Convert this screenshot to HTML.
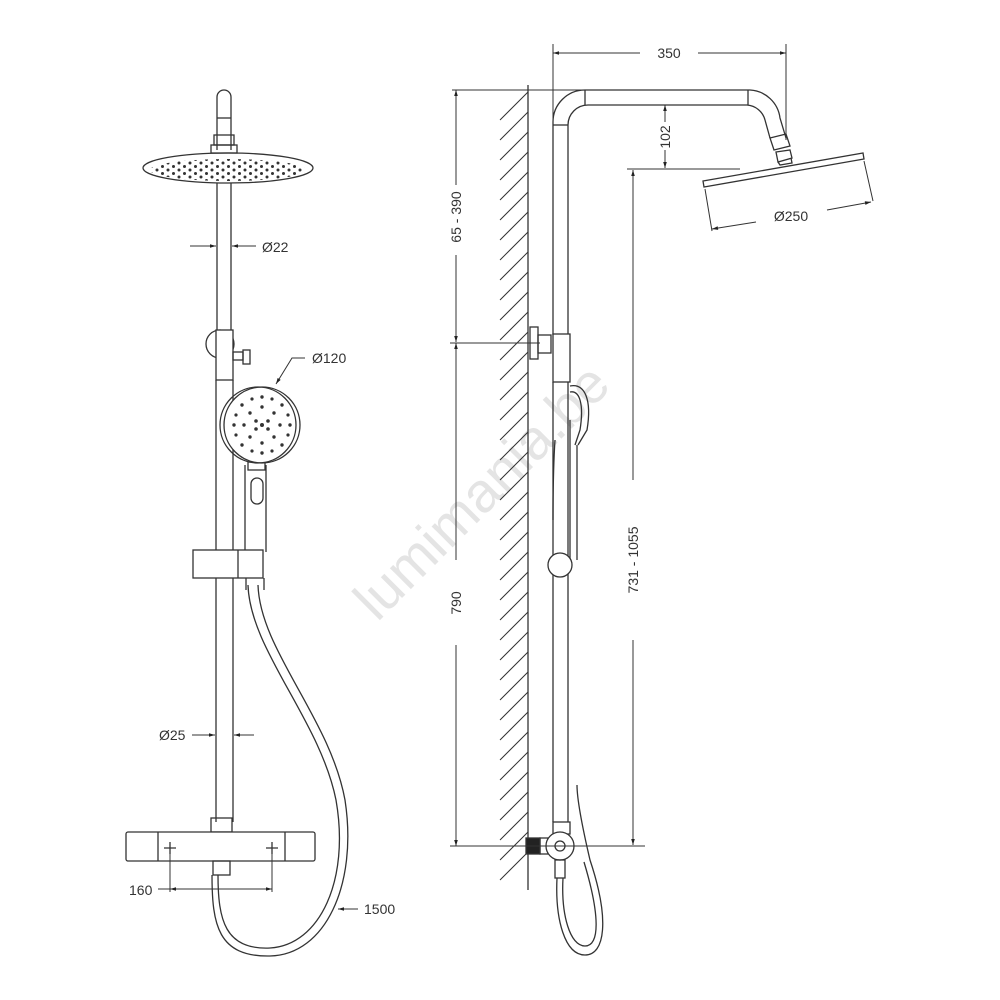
<!DOCTYPE html>
<html><head><meta charset="utf-8"><style>
html,body{margin:0;padding:0;background:#fff}
svg{display:block}
text{font-family:"Liberation Sans",sans-serif;fill:#333;font-size:14px}
</style></head><body>
<svg width="1000" height="1000" viewBox="0 0 1000 1000" xmlns="http://www.w3.org/2000/svg">
<defs>
<marker id="a" viewBox="0 0 10 10" refX="10" refY="5" markerWidth="8" markerHeight="6" orient="auto-start-reverse"><path d="M0,2 L10,5 L0,8 z" fill="#222"/></marker>
<pattern id="dots" width="11" height="7" patternUnits="userSpaceOnUse"><circle cx="3" cy="2" r="1.5" fill="#333"/><circle cx="8.5" cy="5.5" r="1.5" fill="#333"/></pattern>
<clipPath id="hc"><ellipse cx="228" cy="170" rx="78" ry="11"/></clipPath>
</defs>
<text x="0" y="0" transform="translate(495,505) rotate(-45)" text-anchor="middle" style="font-size:56px;fill:#e4e4e4">lumimania.be</text>

<g fill="none" stroke="#333" stroke-width="1.3">
<path d="M217,150 V97 A7,7 0 0 1 231,97 V150"/>
<line x1="217" y1="118" x2="231" y2="118"/>
<rect x="214" y="135" width="20" height="10"/>
<rect x="211" y="145" width="26" height="8"/>
<ellipse cx="228" cy="168" rx="85" ry="15"/>
<rect x="140" y="158" width="176" height="24" fill="url(#dots)" stroke="none" clip-path="url(#hc)"/>
<line x1="217" y1="183" x2="217" y2="330"/><line x1="231" y1="183" x2="231" y2="330"/>
<circle cx="220" cy="344" r="14"/>
<rect x="216" y="330" width="17" height="50" fill="#fff"/>
<rect x="233" y="352" width="10" height="8"/><rect x="243" y="350" width="7" height="14"/>
<line x1="216" y1="380" x2="216" y2="822"/><line x1="233" y1="380" x2="233" y2="822"/>
<path d="M245,465 V552 M266,465 V552"/>
<rect x="251" y="478" width="12" height="26" rx="6"/>
<rect x="248" y="462" width="17" height="8"/>
<circle cx="262" cy="425" r="38" fill="#fff"/>
<circle cx="258" cy="425" r="38"/>
<g fill="#333" stroke="none">
<circle cx="262" cy="425" r="2"/><circle cx="256" cy="421" r="1.8"/><circle cx="268" cy="421" r="1.8"/><circle cx="256" cy="429" r="1.8"/><circle cx="268" cy="429" r="1.8"/>
<circle cx="262" cy="397" r="1.7"/><circle cx="262" cy="453" r="1.7"/><circle cx="234" cy="425" r="1.7"/><circle cx="290" cy="425" r="1.7"/>
<circle cx="242" cy="405" r="1.7"/><circle cx="282" cy="405" r="1.7"/><circle cx="242" cy="445" r="1.7"/><circle cx="282" cy="445" r="1.7"/>
<circle cx="262" cy="407" r="1.7"/><circle cx="262" cy="443" r="1.7"/><circle cx="244" cy="425" r="1.7"/><circle cx="280" cy="425" r="1.7"/>
<circle cx="250" cy="413" r="1.7"/><circle cx="274" cy="413" r="1.7"/><circle cx="250" cy="437" r="1.7"/><circle cx="274" cy="437" r="1.7"/>
<circle cx="252" cy="399" r="1.6"/><circle cx="272" cy="399" r="1.6"/><circle cx="252" cy="451" r="1.6"/><circle cx="272" cy="451" r="1.6"/>
<circle cx="236" cy="415" r="1.6"/><circle cx="288" cy="415" r="1.6"/><circle cx="236" cy="435" r="1.6"/><circle cx="288" cy="435" r="1.6"/>
</g>
<rect x="193" y="550" width="70" height="28" fill="#fff"/>
<line x1="238" y1="550" x2="238" y2="578"/>
<path d="M246,578 V590 M264,578 V590"/>
<path d="M248,585 C250,650 320,720 336,800 C350,880 320,945 270,948 C225,950 218,920 218,875"/>
<path d="M258,585 C260,650 330,718 345,800 C358,885 325,955 270,956 C218,957 212,925 212,875"/>
<rect x="211" y="818" width="21" height="14"/>
<rect x="126" y="832" width="189" height="29" rx="2" fill="#fff"/>
<line x1="158" y1="832" x2="158" y2="861"/><line x1="285" y1="832" x2="285" y2="861"/>
<rect x="213" y="861" width="17" height="14"/>
<path d="M164,848 h12 M170,842 v12 M266,848 h12 M272,842 v12"/>

<line x1="528" y1="85" x2="528" y2="890"/>
<g stroke-width="1">
<path d="M500,120 L528,92 M500,140 L528,112 M500,160 L528,132 M500,180 L528,152 M500,200 L528,172 M500,220 L528,192 M500,240 L528,212 M500,260 L528,232 M500,280 L528,252 M500,300 L528,272 M500,320 L528,292 M500,340 L528,312 M500,360 L528,332 M500,380 L528,352 M500,400 L528,372 M500,420 L528,392 M500,440 L528,412 M500,460 L528,432 M500,480 L528,452 M500,500 L528,472 M500,520 L528,492 M500,540 L528,512 M500,560 L528,532 M500,580 L528,552 M500,600 L528,572 M500,620 L528,592 M500,640 L528,612 M500,660 L528,632 M500,680 L528,652 M500,700 L528,672 M500,720 L528,692 M500,740 L528,712 M500,760 L528,732 M500,780 L528,752 M500,800 L528,772 M500,820 L528,792 M500,840 L528,812 M500,860 L528,832 M500,880 L528,852"/>
</g>
<path d="M553,335 V122 A32,32 0 0 1 585,90 H750 A32,32 0 0 1 780,118 L786,138"/>
<path d="M568,335 V125 A20,20 0 0 1 588,105 H747 A20,20 0 0 1 765,120 L770,138"/>
<line x1="553" y1="125" x2="568" y2="125"/>
<line x1="585" y1="90" x2="585" y2="105"/><line x1="748" y1="90" x2="748" y2="105"/>
<path d="M770,138 L786,134 L790,146 L774,150 Z"/>
<path d="M776,152 L790,150 L792,158 L778,162 Z"/>
<path d="M778,162 L780,165 L792,163 L791,158"/>
<path d="M703,181 L863,153 L864,159 L704,187 Z"/>
<path d="M705,189 L712,231 M864,161 L873,201" stroke-width="1"/>
<rect x="530" y="327" width="8" height="32"/>
<rect x="538" y="335" width="13" height="18"/>
<rect x="553" y="334" width="17" height="48" fill="#fff"/>
<path d="M570,386 C585,383 592,400 587,430 L578,445"/>
<path d="M570,392 C580,390 584,405 580,430 L575,445"/>
<path d="M570,420 V560 M577,445 V560"/>
<path d="M555,440 C553,470 553,500 553,520"/>
<line x1="553" y1="382" x2="553" y2="822"/><line x1="568" y1="382" x2="568" y2="822"/>
<circle cx="560" cy="565" r="12" fill="#fff"/>
<rect x="553" y="822" width="17" height="12"/>
<rect x="526" y="838" width="14" height="16" fill="#222"/>
<rect x="540" y="838" width="8" height="16"/>
<circle cx="560" cy="846" r="14" fill="#fff"/><circle cx="560" cy="846" r="5"/>
<rect x="555" y="860" width="10" height="18"/>
<path d="M557,878 C555,920 565,955 585,955 C605,955 610,920 590,860 C583,830 577,800 577,785"/>
<path d="M563,878 C561,915 570,946 585,946 C600,946 600,915 584,862"/>

<g stroke-width="1" stroke="#333">
<line x1="190" y1="246" x2="216" y2="246" marker-end="url(#a)"/>
<line x1="256" y1="246" x2="232" y2="246" marker-end="url(#a)"/>
<path d="M305,358 H292 L276,384" marker-end="url(#a)"/>
<line x1="192" y1="735" x2="215" y2="735" marker-end="url(#a)"/>
<line x1="254" y1="735" x2="234" y2="735" marker-end="url(#a)"/>
<line x1="170" y1="848" x2="170" y2="892"/><line x1="272" y1="848" x2="272" y2="892"/>
<line x1="158" y1="889" x2="170" y2="889"/>
<line x1="190" y1="889" x2="170" y2="889" marker-end="url(#a)"/>
<line x1="252" y1="889" x2="272" y2="889" marker-end="url(#a)"/>
<line x1="190" y1="889" x2="252" y2="889"/>
<line x1="358" y1="909" x2="338" y2="909" marker-end="url(#a)"/>
<line x1="553" y1="44" x2="553" y2="122"/><line x1="786" y1="44" x2="786" y2="140"/>
<line x1="640" y1="53" x2="553" y2="53" marker-end="url(#a)"/>
<line x1="698" y1="53" x2="786" y2="53" marker-end="url(#a)"/>
<line x1="452" y1="90" x2="585" y2="90"/>
<line x1="456" y1="185" x2="456" y2="90" marker-end="url(#a)"/>
<line x1="456" y1="255" x2="456" y2="342" marker-end="url(#a)"/>
<line x1="450" y1="343" x2="540" y2="343"/>
<line x1="456" y1="560" x2="456" y2="343" marker-end="url(#a)"/>
<line x1="456" y1="645" x2="456" y2="846" marker-end="url(#a)"/>
<line x1="450" y1="846" x2="645" y2="846"/>
<line x1="665" y1="122" x2="665" y2="105" marker-end="url(#a)"/>
<line x1="665" y1="150" x2="665" y2="168" marker-end="url(#a)"/>
<line x1="627" y1="169" x2="740" y2="169"/>
<line x1="633" y1="480" x2="633" y2="170" marker-end="url(#a)"/>
<line x1="633" y1="640" x2="633" y2="845" marker-end="url(#a)"/>
<line x1="756" y1="222" x2="712" y2="229" marker-end="url(#a)"/>
<line x1="827" y1="210" x2="871" y2="202" marker-end="url(#a)"/>
</g>
</g>

<text x="262" y="252">Ø22</text>
<text x="312" y="363">Ø120</text>
<text x="159" y="740">Ø25</text>
<text x="129" y="895">160</text>
<text x="364" y="914">1500</text>
<text x="669" y="58" text-anchor="middle">350</text>
<text x="791" y="221" text-anchor="middle">Ø250</text>
<text transform="translate(461,217) rotate(-90)" text-anchor="middle">65 - 390</text>
<text transform="translate(461,603) rotate(-90)" text-anchor="middle">790</text>
<text transform="translate(670,137) rotate(-90)" text-anchor="middle">102</text>
<text transform="translate(638,560) rotate(-90)" text-anchor="middle">731 - 1055</text>
</svg>
</body></html>
